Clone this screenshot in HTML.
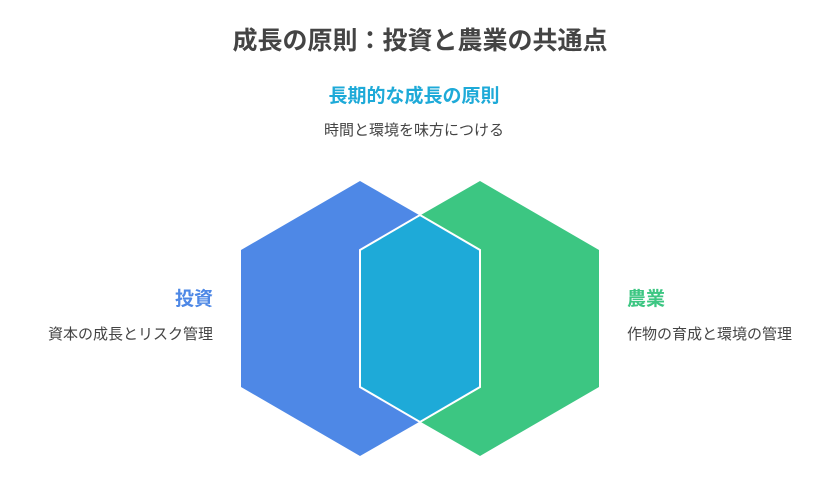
<!DOCTYPE html>
<html><head><meta charset="utf-8"><style>
body{margin:0;background:#fff;width:840px;height:492px;overflow:hidden;font-family:"Liberation Sans","Noto Sans CJK JP",sans-serif;}
.t{position:absolute;white-space:nowrap;line-height:1;}
</style></head><body>
<div class="t" style="left:0;width:840px;text-align:center;top:29px;font-size:25px;font-weight:bold;color:#444;">成長の原則：投資と農業の共通点</div>
<div class="t" style="left:0;width:828px;text-align:center;top:87px;font-size:19px;font-weight:bold;color:#1EAAD8;">長期的な成長の原則</div>
<div class="t" style="left:0;width:828px;text-align:center;top:123px;font-size:15px;color:#444;">時間と環境を味方につける</div>
<div class="t" style="right:627px;top:290px;font-size:19px;font-weight:bold;color:#4E88E6;">投資</div>
<div class="t" style="right:627px;top:327px;font-size:15px;color:#444;">資本の成長とリスク管理</div>
<div class="t" style="left:627px;top:290px;font-size:19px;font-weight:bold;color:#3CC682;">農業</div>
<div class="t" style="left:627px;top:327px;font-size:15px;color:#444;">作物の育成と環境の管理</div>
<svg style="position:absolute;left:0;top:0" width="840" height="492">
<polygon points="360,181 480,250 480,387 360,456 241,387 241,250" fill="#4E88E6"/>
<polygon points="480,181 599,250 599,387 480,456 360,387 360,250" fill="#3CC682"/>
<polygon points="360,250 420,215 480,250 480,387 420,422 360,387" fill="#1EAAD8" stroke="#fff" stroke-width="2"/>
</svg>
</body></html>
